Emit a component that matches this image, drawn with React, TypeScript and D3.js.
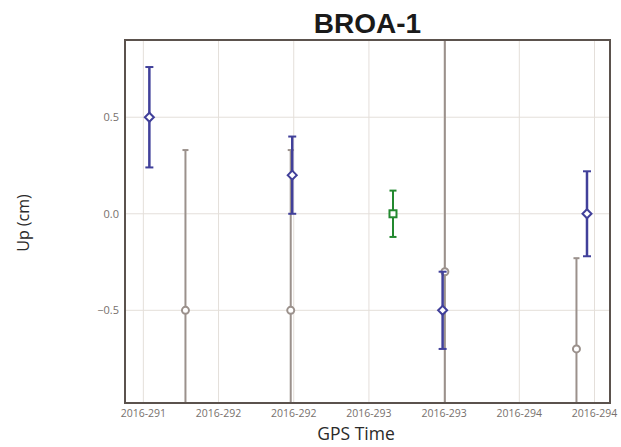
import * as d3 from "d3";

// GPS day-of-year (fractional) for each solution
const BLUE_X = [291.04, 291.99, 292.99, 293.95];
const BLUE_Y = [0.5, 0.2, -0.5, 0.0];
const BLUE_ERR = [0.26, 0.2, 0.2, 0.22];

const GREEN_X = [292.66];
const GREEN_Y = [0.0];
const GREEN_ERR = [0.12];

const GRAY_X = [291.28, 291.98, 293.005, 293.88];
const GRAY_Y = [-0.5, -0.5, -0.3, -0.7];
const GRAY_ERR = [0.83, 0.83, 2.0, 0.47];

const X_TICKS = [291.0, 291.5, 292.0, 292.5, 293.0, 293.5, 294.0];
const X_TICK_LABELS = ["2016-291", "2016-292", "2016-292", "2016-293", "2016-293", "2016-294", "2016-294"];
const Y_TICKS = [0.5, 0.0, -0.5];

const W = 621;
const H = 447;
const margin = { top: 40, right: 11, bottom: 44, left: 125 };

const FRAME = "#5b524d";
const GRID = "#e4dfda";
const BLUE = "#41409a";
const GREEN = "#23892f";
const GRAY = "#9b918c";

export default function App() {
  const x = d3.scaleLinear().domain([290.878, 294.103]).range([margin.left, W - margin.right]);
  const y = d3.scaleLinear().domain([-0.98, 0.9]).range([H - margin.bottom, margin.top]);
  const [x0, x1] = x.range();
  const [y0, y1] = y.range();

  const series = [
    { xs: GRAY_X, ys: GRAY_Y, errs: GRAY_ERR, color: GRAY, width: 2, cap: 3, marker: "circle" },
    { xs: GREEN_X, ys: GREEN_Y, errs: GREEN_ERR, color: GREEN, width: 2, cap: 3.5, marker: "square" },
    { xs: BLUE_X, ys: BLUE_Y, errs: BLUE_ERR, color: BLUE, width: 2.5, cap: 4, marker: "diamond" },
  ];

  const marker = (kind: string, cx: number, cy: number, color: string) => {
    if (kind === "circle")
      return <circle cx={cx} cy={cy} r={3.5} fill="#fff" stroke={color} strokeWidth={2} />;
    if (kind === "square")
      return <rect x={cx - 3.5} y={cy - 3.5} width={7} height={7} fill="#fff" stroke={color} strokeWidth={2} />;
    const s = 4.5;
    return (
      <path
        d={`M${cx},${cy - s}L${cx + s},${cy}L${cx},${cy + s}L${cx - s},${cy}Z`}
        fill="#fff"
        stroke={color}
        strokeWidth={2}
      />
    );
  };

  return (
    <svg width={W} height={H} style={{ position: "absolute", left: 0, top: 0, background: "#fff" }}>
      <defs>
        <clipPath id="plot">
          <rect x={x0} y={y1} width={x1 - x0} height={y0 - y1} />
        </clipPath>
      </defs>

      {/* grid */}
      {X_TICKS.map((t) => (
        <line key={"gx" + t} x1={x(t)} x2={x(t)} y1={y1} y2={y0} stroke={GRID} strokeWidth={1} />
      ))}
      {Y_TICKS.map((t) => (
        <line key={"gy" + t} x1={x0} x2={x1} y1={y(t)} y2={y(t)} stroke={GRID} strokeWidth={1} />
      ))}

      {/* error bars */}
      <g clipPath="url(#plot)">
        {series.map((s, si) =>
          s.xs.map((xv, i) => {
            const cx = x(xv);
            const top = y(s.ys[i] + s.errs[i]);
            const bot = y(s.ys[i] - s.errs[i]);
            return (
              <g key={si + "-" + i}>
                <line x1={cx} x2={cx} y1={top} y2={bot} stroke={s.color} strokeWidth={s.width} />
                <line x1={cx - s.cap} x2={cx + s.cap} y1={top} y2={top} stroke={s.color} strokeWidth={2} />
                <line x1={cx - s.cap} x2={cx + s.cap} y1={bot} y2={bot} stroke={s.color} strokeWidth={2} />
                {marker(s.marker, cx, y(s.ys[i]), s.color)}
              </g>
            );
          })
        )}
      </g>

      {/* frame */}
      <rect x={x0} y={y1} width={x1 - x0} height={y0 - y1} fill="none" stroke={FRAME} strokeWidth={2} />

      {/* y ticks */}
      {Y_TICKS.map((t) => (
        <text
          key={"yt" + t}
          x={x0 - 6}
          y={y(t)}
          dy="0.35em"
          textAnchor="end"
          fontFamily="'Open Sans', sans-serif"
          fontSize={11}
          fill="#77706c"
        >
          {d3.format(".1f")(t)}
        </text>
      ))}

      {/* x ticks */}
      {X_TICKS.map((t, i) => (
        <text
          key={"xt" + t}
          x={x(t)}
          y={y0 + 14}
          textAnchor="middle"
          fontFamily="'Open Sans', sans-serif"
          fontSize={10.5}
          fill="#77706c"
        >
          {X_TICK_LABELS[i]}
        </text>
      ))}

      <text
        x={(x0 + x1) / 2}
        y={33}
        textAnchor="middle"
        fontFamily="'Liberation Sans', Arial, sans-serif"
        fontWeight="bold"
        fontSize={28}
        fill="#1a1a1a"
      >
        BROA-1
      </text>

      <text
        x={356}
        y={440}
        textAnchor="middle"
        fontFamily="'Open Sans', sans-serif"
        fontSize={17.5}
        fill="#2a2a2a"
      >
        GPS Time
      </text>

      <text
        transform={`translate(29,223) rotate(-90)`}
        textAnchor="middle"
        fontFamily="'Open Sans', sans-serif"
        fontSize={16}
        fill="#2a2a2a"
      >
        Up (cm)
      </text>
    </svg>
  );
}
